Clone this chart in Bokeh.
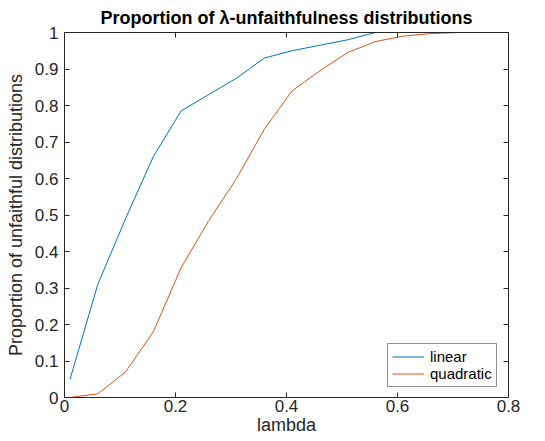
from bokeh.plotting import figure
from bokeh.models import Range1d, LinearAxis, FixedTicker, Legend, LegendItem, CustomLabelingPolicy
from bokeh.embed import file_html
from bokeh.resources import INLINE

lam = [0.01, 0.06, 0.11, 0.16, 0.21, 0.26, 0.31, 0.36, 0.41, 0.46, 0.51, 0.56, 0.61, 0.66, 0.71, 0.76]
linear = [0.05, 0.31, 0.49, 0.66, 0.785, 0.83, 0.875, 0.93, 0.95, 0.965, 0.98, 1.0, 1.0, 1.0, 1.0, 1.0]
quadratic = [0.0, 0.01, 0.07, 0.18, 0.355, 0.485, 0.60, 0.735, 0.84, 0.895, 0.945, 0.975, 0.99, 0.997, 1.0, 1.0]

x_ticks = [0, 0.2, 0.4, 0.6, 0.8]
x_labels = ["0", "0.2", "0.4", "0.6", "0.8"]
y_ticks = [0, 0.1, 0.2, 0.3, 0.4, 0.5, 0.6, 0.7, 0.8, 0.9, 1]
y_labels = ["0", "0.1", "0.2", "0.3", "0.4", "0.5", "0.6", "0.7", "0.8", "0.9", "1"]

FONT = "Liberation Sans"
AX = "#262626"

p = figure(width=545, height=441, output_backend="svg", toolbar_location=None,
           x_range=Range1d(0, 0.8), y_range=Range1d(0, 1),
           min_border_left=64, min_border_right=37, min_border_top=32, min_border_bottom=44,
           x_axis_label="lambda", y_axis_label="Proportion of unfaithful distributions")
p.title.text = "Proportion of λ-unfaithfulness distributions"
p.title.align = "center"
p.title.text_font = FONT
p.title.text_font_size = "18px"
p.title.text_font_style = "bold"
p.title.text_color = "black"
p.title.standoff = 2
p.xgrid.visible = False
p.ygrid.visible = False
p.outline_line_color = None

r1 = p.line(lam, linear, line_color="#0072BD", line_width=1)
r2 = p.line(lam, quadratic, line_color="#D95319", line_width=1)

bottom = p.below[0]
left = p.left[0]
top = LinearAxis()
right = LinearAxis()
p.add_layout(top, "above")
p.add_layout(right, "right")

for ax, ticks, labels in [(bottom, x_ticks, x_labels), (top, x_ticks, x_labels)]:
    ax.ticker = FixedTicker(ticks=ticks)
    ax.major_label_overrides = dict(zip(ticks, labels))
for ax, ticks, labels in [(left, y_ticks, y_labels), (right, y_ticks, y_labels)]:
    ax.ticker = FixedTicker(ticks=ticks)
    ax.major_label_overrides = dict(zip(ticks, labels))

for ax in [bottom, left, top, right]:
    ax.axis_line_color = AX
    ax.axis_line_width = 1
    ax.major_tick_line_color = AX
    ax.major_tick_in = 5
    ax.major_tick_out = 0
    ax.minor_tick_line_color = None
    ax.major_label_text_font = FONT
    ax.major_label_text_font_size = "17px"
    ax.major_label_text_color = AX
    ax.axis_label_text_font = FONT
    ax.axis_label_text_font_size = "18px"
    ax.axis_label_text_font_style = "normal"
    ax.axis_label_text_color = AX

hide = CustomLabelingPolicy(code="for (const i of Array.from(indices)) { indices.unset(i) } return indices")
for ax in [top, right]:
    ax.major_label_text_font_size = "1px"
    ax.major_label_standoff = 0
    ax.major_label_policy = hide

bottom.major_label_standoff = 2
bottom.axis_label_standoff = 0
left.major_label_standoff = 6
left.axis_label_standoff = 6

legend = Legend(items=[LegendItem(label="linear", renderers=[r1]),
                       LegendItem(label="quadratic", renderers=[r2])],
                location=(323, 10))
legend.label_text_font = FONT
legend.label_text_font_size = "15px"
legend.label_text_color = "black"
legend.border_line_color = AX
legend.border_line_width = 1
legend.background_fill_color = "white"
legend.background_fill_alpha = 1
legend.padding = 4
legend.spacing = 0
legend.margin = 0
legend.glyph_width = 32
legend.glyph_height = 17
legend.label_height = 17
legend.label_standoff = 6
p.add_layout(legend, "center")

open("out.html", "w").write(file_html(p, INLINE))
